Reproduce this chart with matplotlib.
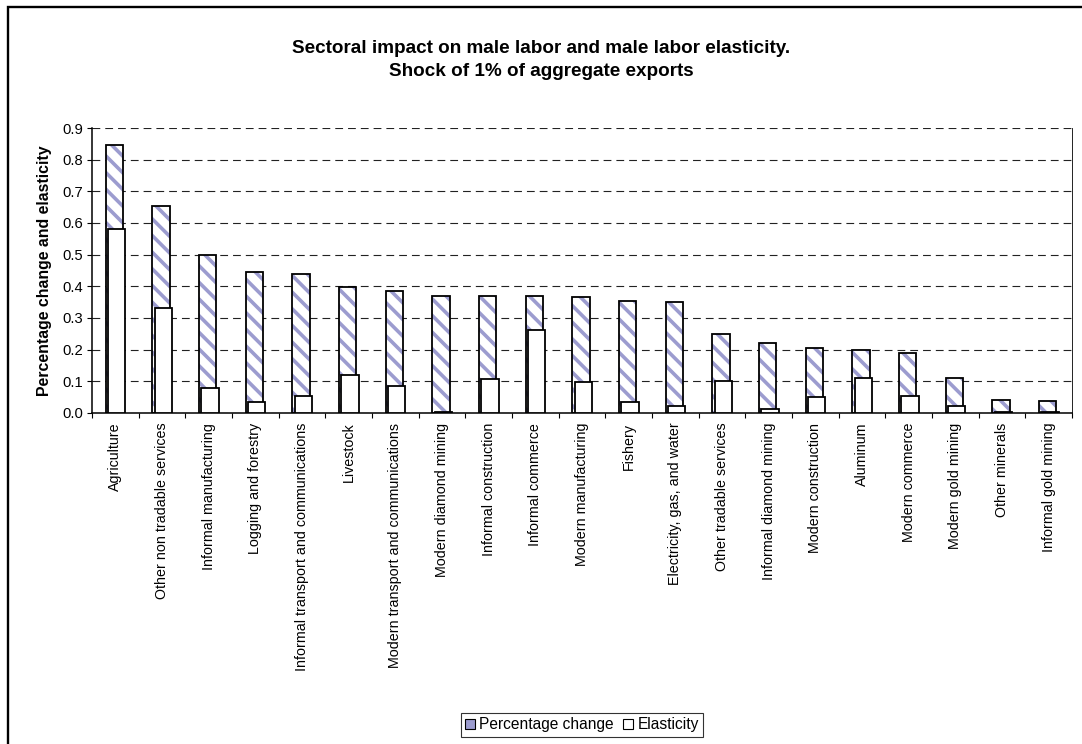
import numpy as np
import matplotlib.pyplot as plt
from matplotlib.patches import Patch, Rectangle
from matplotlib.ticker import FixedLocator, FormatStrFormatter

sectors = [
    'Agriculture', 'Other non tradable services', 'Informal manufacturing',
    'Logging and forestry', 'Informal transport and communications', 'Livestock',
    'Modern transport and communications', 'Modern diamond mining',
    'Informal construction', 'Informal commerce', 'Modern manufacturing', 'Fishery',
    'Electricity, gas, and water', 'Other tradable services', 'Informal diamond mining',
    'Modern construction', 'Aluminum', 'Modern commerce', 'Modern gold mining',
    'Other minerals', 'Informal gold mining',
]
pct_change = [0.847, 0.653, 0.498, 0.444, 0.439, 0.399, 0.386, 0.370, 0.369, 0.368,
              0.367, 0.354, 0.351, 0.249, 0.220, 0.206, 0.199, 0.190, 0.112, 0.040, 0.037]
elasticity = [0.581, 0.330, 0.080, 0.035, 0.054, 0.121, 0.085, 0.004, 0.106, 0.263,
              0.098, 0.035, 0.021, 0.101, 0.013, 0.049, 0.110, 0.053, 0.021, 0.003, 0.002]

DPI = 100
plt.rcParams['font.family'] = 'Liberation Sans'
plt.rcParams['hatch.linewidth'] = 2.6

hatch_col = '#9c9ccf'

fig = plt.figure(figsize=(1082 / DPI, 744 / DPI), dpi=DPI)
ax = fig.add_axes([92 / 1082, 1 - 413 / 744, 980 / 1082, 285 / 744])

x = np.arange(len(sectors))
w = 0.37

# percentage change: hatched fill, then black outline on top
ax.bar(x - 0.02, pct_change, w, color='white', edgecolor=hatch_col, hatch='\\\\',
       linewidth=0, zorder=2)
ax.bar(x - 0.02, pct_change, w, fill=False, edgecolor='black', linewidth=1.3, zorder=3)
ax.bar(x + 0.03, elasticity, w, color='white', edgecolor='black', linewidth=1.3, zorder=4)

ax.set_xlim(-0.5, len(sectors) - 0.5)
ax.set_ylim(0, 0.9)
ax.set_yticks(np.arange(0, 0.91, 0.1))
ax.yaxis.set_major_formatter(FormatStrFormatter('%.1f'))
ax.grid(axis='y', linestyle=(0, (7, 4.5)), color='#222222', linewidth=0.8, zorder=0)
ax.set_axisbelow(True)

ax.set_xticks(x)
ax.set_xticklabels(sectors, rotation=90, va='top', ha='center')
ax.xaxis.set_minor_locator(FixedLocator(np.arange(-0.5, len(sectors), 1.0)))
ax.tick_params(axis='x', which='major', length=0, pad=7, labelsize=10.3)
ax.tick_params(axis='x', which='minor', length=3.6, width=0.8, direction='out')
ax.tick_params(axis='y', length=3.6, width=0.8, direction='out', pad=3, labelsize=10.6)

ax.spines['top'].set_visible(False)
ax.spines['left'].set_linewidth(1.1)
ax.spines['bottom'].set_linewidth(1.1)
ax.spines['right'].set_linewidth(0.6)

ax.set_ylabel('Percentage change and elasticity', fontsize=11.4, fontweight='bold',
              labelpad=7)

fig.text(541 / 1082, 1 - 60 / 744,
         'Sectoral impact on male labor and male labor elasticity.\n'
         'Shock of 1% of aggregate exports',
         ha='center', va='center', fontsize=13.6, fontweight='bold', linespacing=1.45)

handles = [Patch(facecolor=hatch_col, edgecolor='black', linewidth=0.8),
           Patch(facecolor='white', edgecolor='black', linewidth=0.8)]
leg = fig.legend(handles, ['Percentage change', 'Elasticity'], ncol=2,
                 loc='center', bbox_to_anchor=(582 / 1082, 1 - 725 / 744),
                 fontsize=11.2, frameon=True, fancybox=False, handlelength=0.6,
                 handleheight=0.6, handletextpad=0.3, columnspacing=0.6,
                 borderpad=0.3, borderaxespad=0)
leg.get_frame().set_edgecolor('black')
leg.get_frame().set_linewidth(0.8)

# outer chart frame
fig.patches.append(Rectangle((8 / 1082, -0.1), 1.2, 1.1 - 7 / 744,
                             transform=fig.transFigure, fill=False,
                             edgecolor='black', linewidth=1.7))

fig.savefig('out.png', dpi=DPI)
